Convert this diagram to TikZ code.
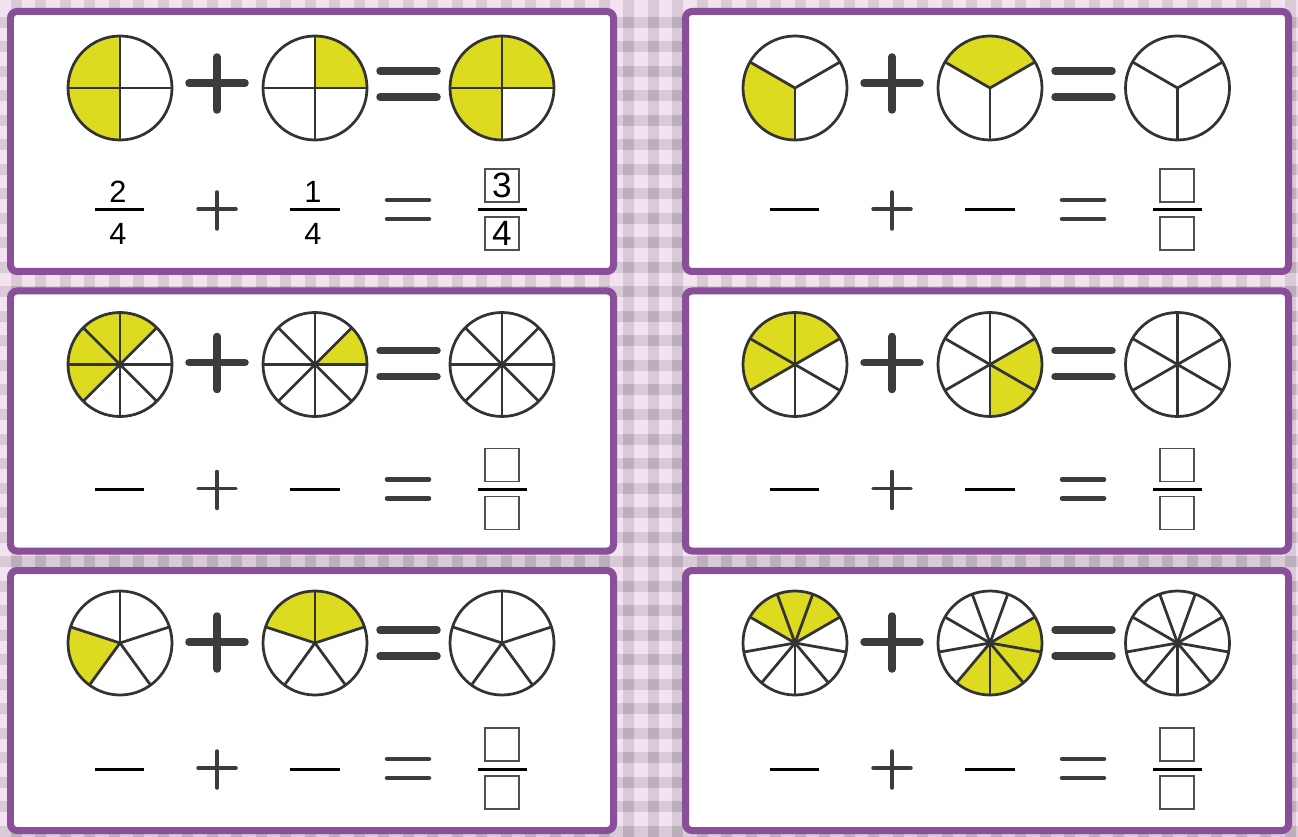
\documentclass[tikz,border=0pt]{standalone}
\usepackage{fontspec}
\setsansfont{Liberation Sans}
\usepackage{tikz}
\definecolor{cardpurple}{RGB}{137,79,153}
\definecolor{pieyellow}{RGB}{221,219,32}
\definecolor{inkgrey}{RGB}{51,51,51}
\definecolor{symgrey}{RGB}{60,60,60}
\definecolor{boxgrey}{RGB}{80,80,80}
\definecolor{ginghlight}{RGB}{243,226,239}
\definecolor{ginghmid}{RGB}{218,202,215}
\definecolor{ginghdark}{RGB}{188,175,188}

% pie: centre x, centre y, parts, first cut, shaded from, shaded to
\newcommand{\fpie}[6]{%
  \fill[white] (#1,#2) circle[radius=52];
  \ifnum#5=#6\relax\else
    \fill[pieyellow] (#1,#2) -- ++(#5:52) arc[start angle=#5,end angle=#6,radius=52] -- cycle;
  \fi
  \foreach \k in {1,...,#3}
    \draw[pieline] (#1,#2) -- ++({#4+360/#3*\k}:52);
  \draw[pieline] (#1,#2) circle[radius=52];}

% card: name, left x, top y, answer numerator, answer denominator
\newcommand{\fcard}[5]{%
  \begin{scope}[shift={(#2,#3)}]
    \draw[cardframe] (0,0) rectangle (603,-260);
    \draw[bigsym] (178.5,-71.5) -- (234.5,-71.5) (206.5,-45.5) -- (206.5,-98.5);
    \draw[bigsym] (369.5,-59.5) -- (426.5,-59.5) (369.5,-85.5) -- (426.5,-85.5);
    \draw[fracbar] (84.5,-198.5) -- (133.5,-198.5);
    \draw[fracbar] (279.5,-198.5) -- (329.5,-198.5);
    \draw[fracbar] (467.5,-198.5) -- (516.5,-198.5);
    \draw[thinplus] (187.5,-197.5) -- (225.5,-197.5) (206.5,-180.5) -- (206.5,-217.5);
    \draw[thineq] (376.5,-188.5) -- (418.5,-188.5) (376.5,-207.5) -- (418.5,-207.5);
    \node[ansbox] (#1num) at (491.5,-174) {#4};
    \node[ansbox] (#1den) at (491.5,-222) {#5};
  \end{scope}}

\begin{document}
\begin{tikzpicture}[x=0.02cm,y=0.02cm,
  cardframe/.style={draw=cardpurple,fill=white,line width=0.14cm,rounded corners=0.13cm},
  pieline/.style={draw=inkgrey,line width=0.055cm},
  bigsym/.style={draw=symgrey,line width=0.15cm,line cap=round},
  thinplus/.style={draw=symgrey,line width=0.07cm,line cap=round},
  thineq/.style={draw=symgrey,line width=0.09cm,line cap=round},
  fracbar/.style={draw=black,line width=0.06cm},
  ansbox/.style={draw=boxgrey,line width=0.03cm,minimum width=0.68cm,minimum height=0.66cm,
    inner sep=0pt,font=\sffamily\fontsize{20}{22}\selectfont},
  digit/.style={font=\sffamily\fontsize{17.5}{19}\selectfont,inner sep=0pt,anchor=base}
]
  \useasboundingbox (0,0) rectangle (1298,836);
  % gingham backdrop
  \fill[ginghlight] (0,0) rectangle (1298,836);
  \foreach \i in {0,...,53}
    \fill[ginghmid] ({10.5+24.5*\i},0) rectangle ++(11,836);
  \foreach \j in {0,...,34}
    \fill[ginghmid] (0,{819-24.5*\j}) rectangle ++(1298,-11);
  \foreach \i in {0,...,53}
    \foreach \j in {0,...,34}
      \fill[ginghdark] ({10.5+24.5*\i},{819-24.5*\j}) rectangle ++(11,-11);

  \fcard{A}{10.5}{824.5}{3}{4}
  \fcard{B}{685.5}{824.5}{}{}
  \fcard{C}{10.5}{545}{}{}
  \fcard{D}{685.5}{545}{}{}
  \fcard{E}{10.5}{265.5}{}{}
  \fcard{F}{685.5}{265.5}{}{}

  % quarters and thirds
  \fpie{120}{748}{4}{0}{90}{270}
  \fpie{315}{748}{4}{0}{0}{90}
  \fpie{502}{748}{4}{0}{0}{270}
  \fpie{795}{748}{3}{30}{150}{270}
  \fpie{990}{748}{3}{30}{30}{150}
  \fpie{1177.5}{748}{3}{30}{0}{0}
  % eighths and sixths
  \fpie{120}{471.5}{8}{0}{45}{225}
  \fpie{315}{471.5}{8}{0}{0}{45}
  \fpie{502}{471.5}{8}{0}{0}{0}
  \fpie{795}{471.5}{6}{30}{30}{210}
  \fpie{990}{471.5}{6}{30}{270}{390}
  \fpie{1177.5}{471.5}{6}{30}{0}{0}
  % fifths and ninths
  \fpie{120}{193}{5}{18}{162}{234}
  \fpie{315}{193}{5}{18}{18}{162}
  \fpie{502}{193}{5}{18}{0}{0}
  \fpie{795}{193}{9}{30}{30}{150}
  \fpie{990}{193}{9}{30}{230}{390}
  \fpie{1177.5}{193}{9}{30}{0}{0}

  \node[digit] (Anum1) at (118,633) {2};
  \node[digit] (Aden1) at (118,591) {4};
  \node[digit] (Anum2) at (313,633) {1};
  \node[digit] (Aden2) at (313,591) {4};
\end{tikzpicture}
\end{document}
